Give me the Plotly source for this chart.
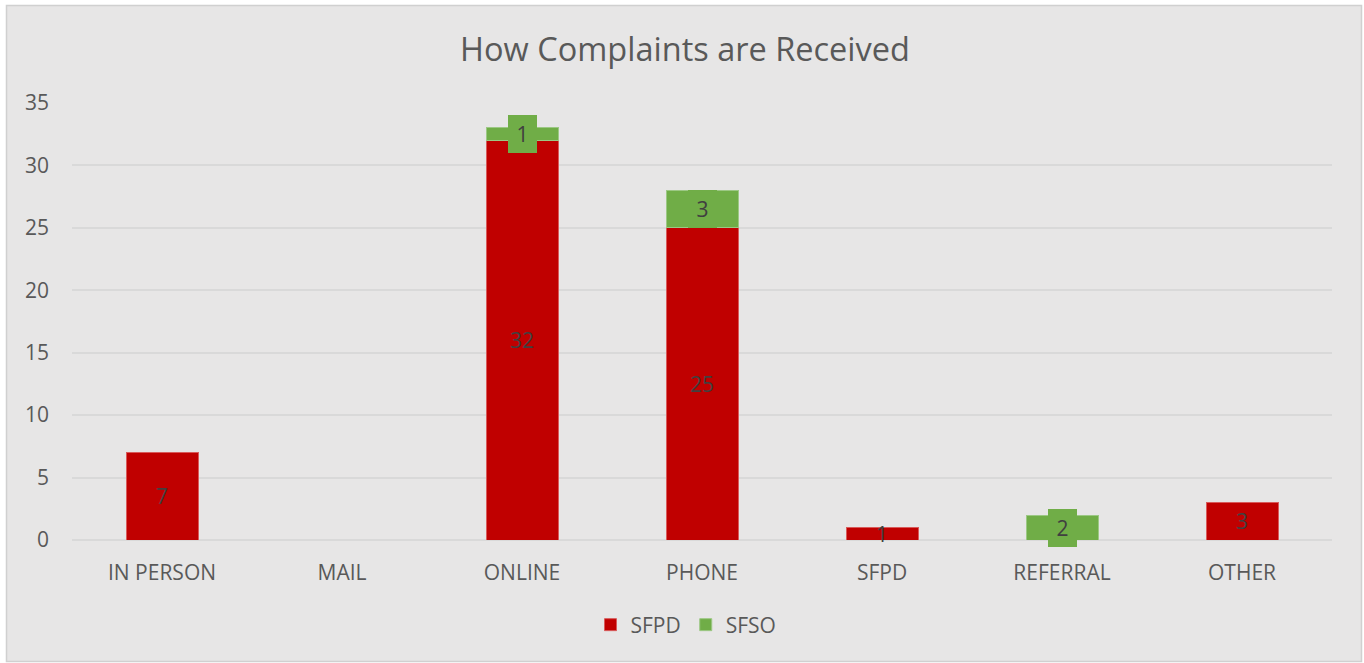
import plotly.graph_objects as go

categories = ["IN PERSON", "MAIL", "ONLINE", "PHONE", "SFPD", "REFERRAL", "OTHER"]
sfpd = [7, 0, 32, 25, 1, 0, 3]
sfso = [0, 0, 1, 3, 0, 2, 0]
y_ticks = [0, 5, 10, 15, 20, 25, 30, 35]

RED = "#C00000"
GREEN = "#70AD47"
TXT = "#595959"
BG = "#E7E6E6"
FONT = "'Open Sans', sans-serif"

def nz(vals):
    return [v if v else None for v in vals]

fig = go.Figure()
fig.add_trace(go.Bar(x=categories, y=nz(sfpd), name="SFPD",
                     marker=dict(color=RED, line=dict(color="#D85A5A", width=1))))
fig.add_trace(go.Bar(x=categories, y=nz(sfso), name="SFSO",
                     marker=dict(color=GREEN, line=dict(color="#9CC884", width=1))))

annotations = []
for c, a, b in zip(categories, sfpd, sfso):
    if a > 0:
        annotations.append(dict(x=c, y=a / 2, text=str(a), showarrow=False,
                                font=dict(size=21, color="#404040", family=FONT)))
    if b > 0:
        annotations.append(dict(x=c, y=a + b / 2, text=str(b), showarrow=False,
                                font=dict(size=21, color="#404040", family=FONT),
                                bgcolor=GREEN, borderpad=0, borderwidth=0, width=29, height=38))

L, R, T, B = 72, 32, 103, 123
W, H = 1364, 663
pw, ph = W - L - R, H - T - B
def px(x): return (x - L) / pw
def py(y): return (H - B - y) / ph

fig.update_layout(
    width=W, height=H,
    margin=dict(l=L, r=R, t=T, b=B),
    paper_bgcolor="white",
    plot_bgcolor=BG,
    barmode="stack",
    bargap=0.6,
    font=dict(family=FONT, color=TXT, size=21),
    title=dict(text="How Complaints are Received", x=px(685), xref="paper", xanchor="center",
               y=1 - 50 / H, yanchor="middle", font=dict(size=32.5, color=TXT, family=FONT)),
    legend=dict(orientation="h", x=px(686), xanchor="center", y=py(625), yanchor="middle",
                font=dict(size=21, color=TXT, family=FONT), bgcolor="rgba(0,0,0,0)", traceorder="normal"),
    xaxis=dict(showgrid=False, showline=False, ticks="", tickfont=dict(size=21, color=TXT), ticklabelstandoff=18),
    yaxis=dict(range=[0, 35], tickvals=y_ticks, showgrid=True, gridcolor="#D9D9D9", gridwidth=1.5,
               zeroline=True, zerolinecolor="#D9D9D9", zerolinewidth=1.5,
               tickfont=dict(size=21, color=TXT), ticklabelstandoff=22),
    annotations=annotations,
    shapes=[dict(type="rect", xref="paper", yref="paper", layer="below",
                 x0=px(6.5), x1=px(1361.5), y0=py(661.5), y1=py(5.5),
                 fillcolor=BG, line=dict(color="#D0D0D0", width=1.5))],
)

fig.write_html("out.html", config={"displayModeBar": False},
               post_script="document.body.style.margin='0';")
